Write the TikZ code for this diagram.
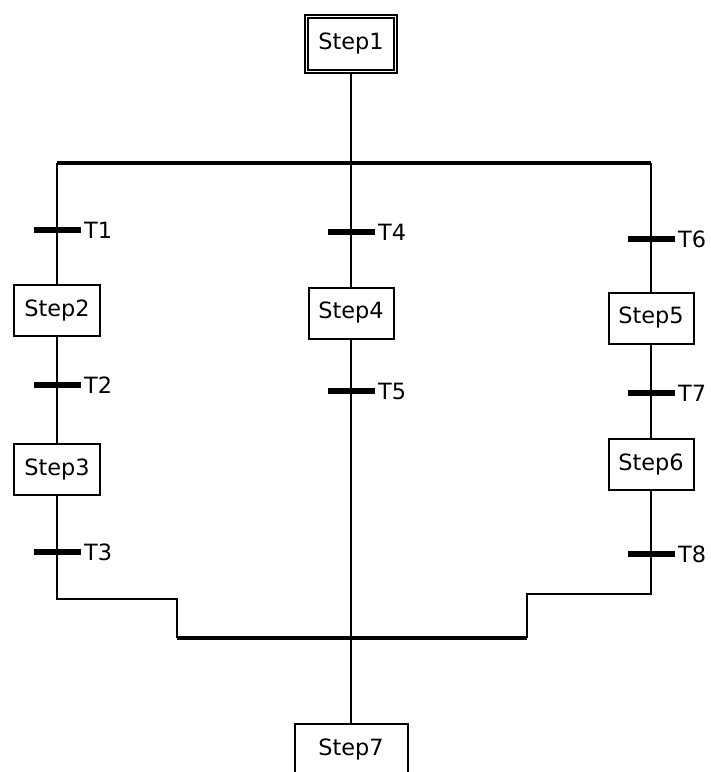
\documentclass[tikz,border=0pt]{standalone}
\usepackage{fontspec}
\setmainfont{DejaVu Sans}
\usepackage{tikz}
\tikzstyle{stepbox}=[rectangle, draw, line width=2bp, minimum width=85bp, minimum height=51bp, inner sep=0pt]
\tikzset{trans/.style={rectangle, fill=black, inner sep=0pt, minimum width=47bp, minimum height=6bp},
  bar/.style={line width=4.5bp},
  link/.style={line width=2bp}}

\begin{document}
\begin{tikzpicture}[x=1bp, y=-1bp, font=\fontsize{22.5}{26}\selectfont]
    \useasboundingbox (0,0) rectangle (711,772);
    \node[stepbox, double, double distance=1.5bp, minimum width=89bp, minimum height=55bp] (step1) at (351,44) {Step1};
    \coordinate (divL) at (57,163);
    \coordinate (divR) at (651,163);
    \node[trans, label=right:T1] (t1) at (57,230) {};
    \node[stepbox] (step2) at (57,310.5) {Step2};
    \node[trans, label=right:T2] (t2) at (57,385) {};
    \node[stepbox] (step3) at (57,469.5) {Step3};
    \node[trans, label=right:T3] (t3) at (57,552) {};
    \node[trans, label=right:T4] (t4) at (351,232) {};
    \node[stepbox] (step4) at (351,313) {Step4};
    \node[trans, label=right:T5] (t5) at (351,391) {};
    \node[trans, label=right:T6] (t6) at (651,239) {};
    \node[stepbox] (step5) at (651,318) {Step5};
    \node[trans, label=right:T7] (t7) at (651,393) {};
    \node[stepbox] (step6) at (651,464.5) {Step6};
    \node[trans, label=right:T8] (t8) at (651,554) {};
    \coordinate (cornL) at (177,599);
    \coordinate (cornR) at (527,594);
    \coordinate (joinL) at (177,638);
    \coordinate (joinR) at (527,638);
    \node[stepbox, minimum width=113bp, minimum height=52bp] (step7) at (351,749.5) {Step7};
    \draw[bar] (divL) -- (divR);
    \draw[bar] (joinL) -- (joinR);
    \draw[link] (step1) -- (t4) -- (step4) -- (t5) -- (step7);
    \draw[link] (divL) -- (t1) -- (step2) -- (t2) -- (step3) -- (t3) |- (cornL) -- (joinL);
    \draw[link] (divR) -- (t6) -- (step5) -- (t7) -- (step6) -- (t8) |- (cornR) -- (joinR);
  \end{tikzpicture}
\end{document}
